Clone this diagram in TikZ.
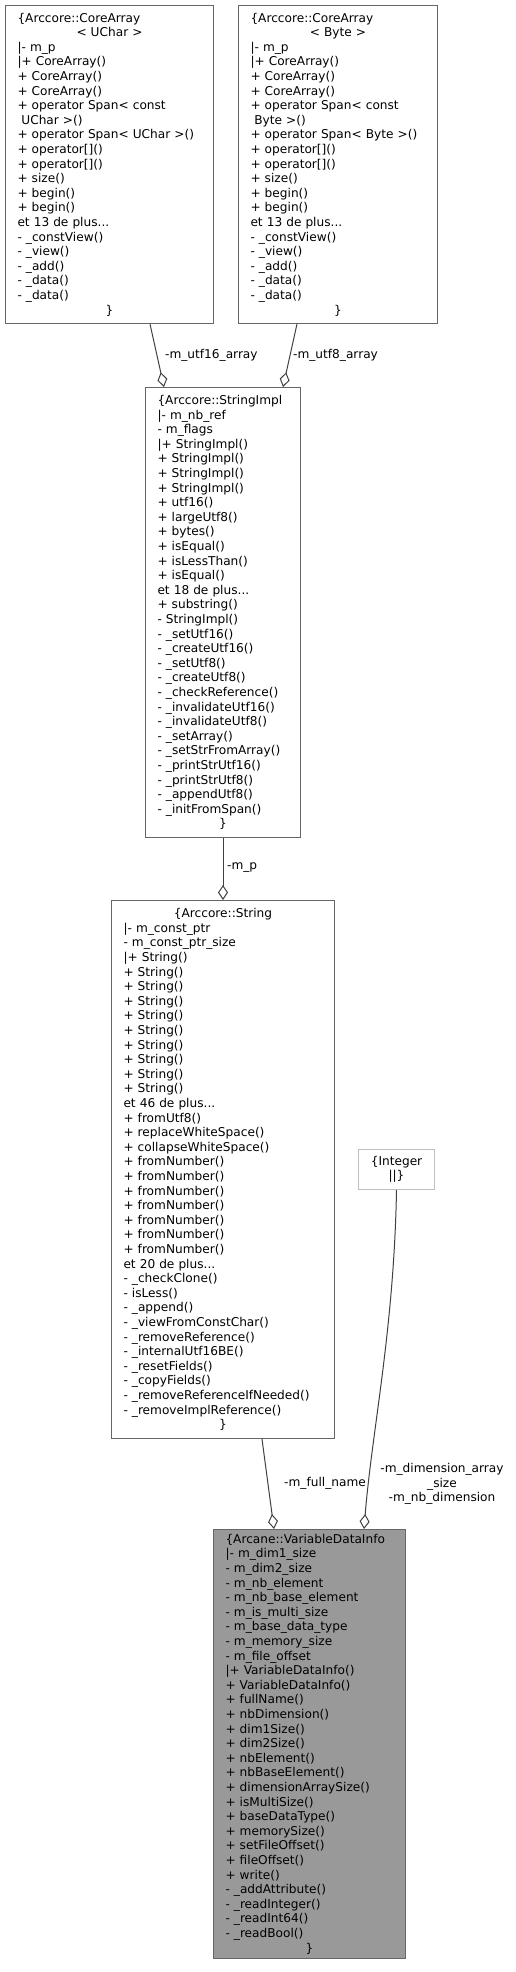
\documentclass[tikz,border=0pt]{standalone}
\usepackage{fontspec}
\setmainfont{DejaVu Sans}
\usetikzlibrary{arrows.meta}
\definecolor{bordergray}{HTML}{666666}
\definecolor{edgegray}{HTML}{404040}
\definecolor{lightborder}{HTML}{BFBFBF}
\definecolor{mainfill}{HTML}{999999}
\newcommand{\ctr}[1]{\makebox[\linewidth][c]{#1}}
\newcommand{\ind}{\hspace*{0.32em}}
\begin{document}
\begin{tikzpicture}[x=1pt,y=-1pt,
  every node/.style={font=\fontsize{12.15}{14.6}\selectfont},
  classbox/.style={draw=bordergray, line width=1pt, fill=white, anchor=north west, align=left, inner xsep=12pt, inner ysep=0pt},
  edgeline/.style={draw=edgegray, line width=1pt, -{Diamond[open,length=15pt,width=10pt]}},
  lbl/.style={inner sep=0pt}]
\useasboundingbox (0,0) rectangle (516,1972);

\node[classbox, text width=184pt, minimum height=318pt] (A) at (5,5) {%
\{Arccore::CoreArray\\
\ctr{< UChar >}\\
|- m\_p\\
|+ CoreArray()\\
+ CoreArray()\\
+ CoreArray()\\
+ operator Span< const\\
\ind UChar >()\\
+ operator Span< UChar >()\\
+ operator[]()\\
+ operator[]()\\
+ size()\\
+ begin()\\
+ begin()\\
et 13 de plus...\\
- \_constView()\\
- \_view()\\
- \_add()\\
- \_data()\\
- \_data()\\
\ctr{\}}};

\node[classbox, text width=175pt, minimum height=318pt] (B) at (238,5) {%
\{Arccore::CoreArray\\
\ctr{< Byte >}\\
|- m\_p\\
|+ CoreArray()\\
+ CoreArray()\\
+ CoreArray()\\
+ operator Span< const\\
\ind Byte >()\\
+ operator Span< Byte >()\\
+ operator[]()\\
+ operator[]()\\
+ size()\\
+ begin()\\
+ begin()\\
et 13 de plus...\\
- \_constView()\\
- \_view()\\
- \_add()\\
- \_data()\\
- \_data()\\
\ctr{\}}};

\node[classbox, text width=131pt, minimum height=450pt] (C) at (145,387) {%
\{Arccore::StringImpl\\
|- m\_nb\_ref\\
- m\_flags\\
|+ StringImpl()\\
+ StringImpl()\\
+ StringImpl()\\
+ StringImpl()\\
+ utf16()\\
+ largeUtf8()\\
+ bytes()\\
+ isEqual()\\
+ isLessThan()\\
+ isEqual()\\
et 18 de plus...\\
+ substring()\\
- StringImpl()\\
- \_setUtf16()\\
- \_createUtf16()\\
- \_setUtf8()\\
- \_createUtf8()\\
- \_checkReference()\\
- \_invalidateUtf16()\\
- \_invalidateUtf8()\\
- \_setArray()\\
- \_setStrFromArray()\\
- \_printStrUtf16()\\
- \_printStrUtf8()\\
- \_appendUtf8()\\
- \_initFromSpan()\\
\ctr{\}}};

\node[classbox, text width=199pt, minimum height=538pt] (D) at (111,900) {%
\ctr{\{Arccore::String}\\
|- m\_const\_ptr\\
- m\_const\_ptr\_size\\
|+ String()\\
+ String()\\
+ String()\\
+ String()\\
+ String()\\
+ String()\\
+ String()\\
+ String()\\
+ String()\\
+ String()\\
et 46 de plus...\\
+ fromUtf8()\\
+ replaceWhiteSpace()\\
+ collapseWhiteSpace()\\
+ fromNumber()\\
+ fromNumber()\\
+ fromNumber()\\
+ fromNumber()\\
+ fromNumber()\\
+ fromNumber()\\
+ fromNumber()\\
et 20 de plus...\\
- \_checkClone()\\
- isLess()\\
- \_append()\\
- \_viewFromConstChar()\\
- \_removeReference()\\
- \_internalUtf16BE()\\
- \_resetFields()\\
- \_copyFields()\\
- \_removeReferenceIfNeeded()\\
- \_removeImplReference()\\
\ctr{\}}};

\node[draw=lightborder, line width=1pt, fill=white, anchor=north west, align=center, inner sep=0pt, minimum width=76pt, minimum height=40pt] (E) at (358,1149) {\{Integer\\||\}};

\node[classbox, fill=mainfill, text width=168pt, minimum height=429pt] (F) at (213,1529) {%
\{Arcane::VariableDataInfo\\
|- m\_dim1\_size\\
- m\_dim2\_size\\
- m\_nb\_element\\
- m\_nb\_base\_element\\
- m\_is\_multi\_size\\
- m\_base\_data\_type\\
- m\_memory\_size\\
- m\_file\_offset\\
|+ VariableDataInfo()\\
+ VariableDataInfo()\\
+ fullName()\\
+ nbDimension()\\
+ dim1Size()\\
+ dim2Size()\\
+ nbElement()\\
+ nbBaseElement()\\
+ dimensionArraySize()\\
+ isMultiSize()\\
+ baseDataType()\\
+ memorySize()\\
+ setFileOffset()\\
+ fileOffset()\\
+ write()\\
- \_addAttribute()\\
- \_readInteger()\\
- \_readInt64()\\
- \_readBool()\\
\ctr{\}}};

\draw[edgeline] ([xshift=145pt]A.south west) -- ([xshift=19pt]C.north west);
\draw[edgeline] ([xshift=59pt]B.south west) -- ([xshift=138pt]C.north west);
\draw[edgeline] (C.south) -- (D.north);
\draw[edgeline] ([xshift=151pt]D.south west) -- ([xshift=61pt]F.north west);
\draw[edgeline] (E.south) .. controls (394,1330) and (372,1430) .. ([xshift=151pt]F.north west);

\node[lbl, anchor=west] (l1) at (165,355) {-m\_utf16\_array};
\node[lbl, anchor=west] (l2) at (293,355) {-m\_utf8\_array};
\node[lbl, anchor=west] (l3) at (227,868) {-m\_p};
\node[lbl, anchor=east] (l4) at (366,1483) {-m\_full\_name};
\node[lbl, align=center] (l5) at (442,1484) {-m\_dimension\_array\\\_size\\-m\_nb\_dimension};
\end{tikzpicture}
\end{document}
